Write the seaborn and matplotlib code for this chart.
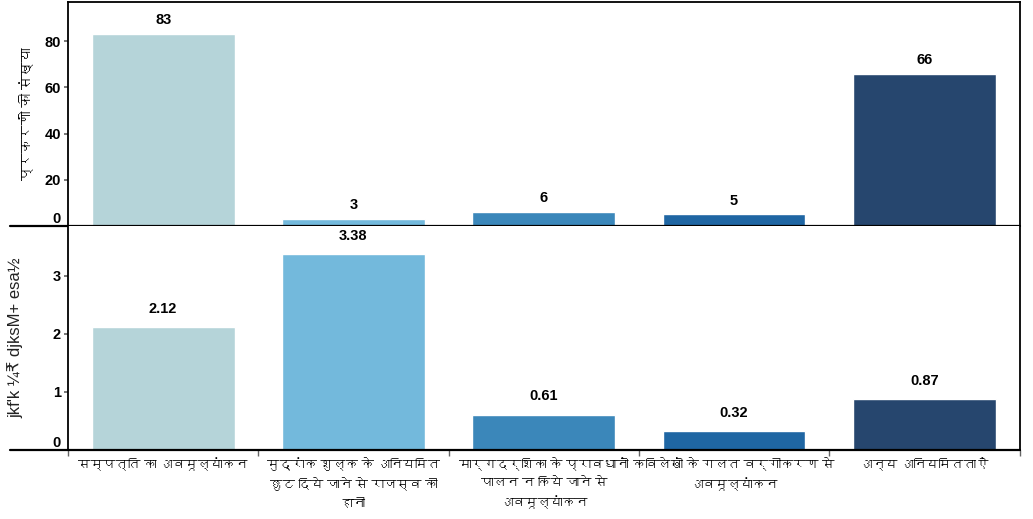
import seaborn as sns
import matplotlib.pyplot as plt
import pandas as pd
from matplotlib import font_manager, ft2font

categories = [
    "सम्पत्ति का अवमूल्यांकन",
    "मुद्रांक शुल्क के अनियमित\nछुट दिये जाने से राजस्व की\nहानी",
    "मार्गदर्शिका के प्रावधानों\nपालन न किये जाने से\nअवमूल्यांकन",
    "कविलेखों के गलत वर्गीकरण से\nअवमूल्यांकन",
    "अन्य अनियमितताऐं",
]
case_counts = [83, 3, 6, 5, 66]
amounts = [2.12, 3.38, 0.61, 0.32, 0.87]
colors = ["#b5d4d9", "#73b9dc", "#3b87ba", "#1f66a3", "#26466e"]

top_ylabel = "प्रकरणों की संख्या"
bottom_ylabel = "jkf'k ¼₹ djksM+ esa½"


def find_font(cp):
    for f in font_manager.fontManager.ttflist:
        try:
            if cp in ft2font.FT2Font(f.fname).get_charmap():
                return f.name
        except Exception:
            pass
    return None


deva = find_font(0x0915)
families = ["Liberation Sans"] + ([deva] if deva else []) + ["DejaVu Sans"]

sns.set_theme(style="white")
plt.rcParams["font.family"] = families

df = pd.DataFrame({"category": categories, "count": case_counts, "amount": amounts})

fig, (ax1, ax2) = plt.subplots(2, 1, figsize=(10.33, 5.19), dpi=100, sharex=True)
fig.subplots_adjust(left=0.0658, right=0.987, top=0.996, bottom=0.133, hspace=0)

sns.barplot(data=df, x="category", y="count", hue="category", palette=colors,
            legend=False, width=0.75, saturation=1, ax=ax1)
sns.barplot(data=df, x="category", y="amount", hue="category", palette=colors,
            legend=False, width=0.75, saturation=1, ax=ax2)

ax1.set_ylim(0, 97)
ax2.set_ylim(0, 3.86)
ax1.set_yticks([0, 20, 40, 60, 80])
ax2.set_yticks([0, 1, 2, 3])
ax1.set_xlim(-0.5, 4.5)

for ax, pad in [(ax1, 5), (ax2, 8)]:
    for c in ax.containers:
        ax.bar_label(c, padding=pad, fontsize=10.5, fontweight="bold", color="black")
    for side in ["left", "right", "top"]:
        ax.spines[side].set_color("black")
        ax.spines[side].set_linewidth(1.3)
    ax.spines["bottom"].set_visible(False)
    ax.axhline(0, xmin=-0.061, xmax=1.0, color="black", lw=1.6, clip_on=False, zorder=5)
    ax.tick_params(axis="y", which="major", length=3, color="#666666", direction="out",
                   left=True, labelsize=10.5, pad=2, labelcolor="black")
    for lab in ax.get_yticklabels():
        lab.set_fontweight("bold")
    ax.get_yticklabels()[0].set_verticalalignment("bottom")
    ax.set_xlabel("")

ax1.spines["top"].set_visible(True)
ax2.spines["top"].set_visible(False)

ax1.set_ylabel(top_ylabel, fontsize=10, fontweight="bold", color="black")
ax2.set_ylabel(bottom_ylabel, fontsize=12, family=["Liberation Sans", "DejaVu Sans"],
               color="#222222")
ax1.yaxis.set_label_coords(-0.036, 0.5)
ax2.yaxis.set_label_coords(-0.047, 0.5)

ax2.set_xticks(range(len(categories)))
ax2.set_xticklabels(categories, fontsize=9, linespacing=1.6, color="black")
ax2.set_xticks([i - 0.5 for i in range(len(categories) + 1)], minor=True)
ax2.tick_params(axis="x", which="major", length=0, pad=6)
ax2.tick_params(axis="x", which="minor", length=4, color="#666666", bottom=True)
ax1.tick_params(axis="x", which="both", length=0)

plt.savefig("out.png", dpi=100)
